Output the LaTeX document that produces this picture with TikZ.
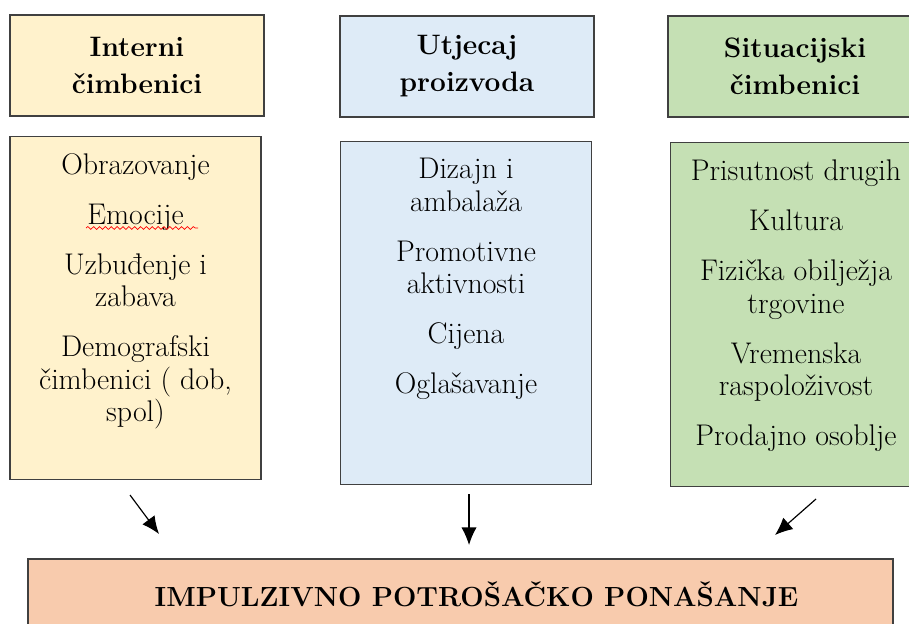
\documentclass[tikz,border=0pt]{standalone}
\usepackage{xcolor}
\usepackage{tikz}
\usetikzlibrary{
    arrows.meta,
    decorations.pathmorphing
}
\definecolor{zutaboja}{HTML}{FFF2CC}
\definecolor{plavaboja}{HTML}{DEEBF7}
\definecolor{zelenaboja}{HTML}{C5E0B4}
\definecolor{narancasta}{HTML}{F8CBAD}
\definecolor{rub}{HTML}{404040}

\begin{document}
\begin{tikzpicture}[x=0.03cm,y=-0.03cm,>={Latex[length=15pt,width=13pt]},line width=1pt]
    \tikzstyle{naslov}=[draw=rub, inner sep=0pt, outer sep=0pt, minimum width=7.62cm, minimum height=3.03cm, align=center, font=\fontsize{24}{31.6}\selectfont\bfseries]
    \tikzstyle{okvir}=[draw=rub, inner sep=0pt, outer sep=0pt, minimum width=7.53cm, minimum height=10.3cm]
    \tikzstyle{popis}=[anchor=north, inner sep=0pt, align=center, font=\fontsize{25.5}{27.7}\selectfont]

    \useasboundingbox (0,0) rectangle (909,623);

    \node[naslov, fill=zutaboja] (IN) at (137,65.5) {Interni\\ čimbenici};
    \node[naslov, fill=plavaboja] (UP) at (467,66.5) {Utjecaj\\ proizvoda};
    \node[naslov, fill=zelenaboja] (SC) at (795,66.5) {Situacijski\\ čimbenici};

    \node[okvir, fill=zutaboja] (INb) at (135.5,308) {};
    \node[okvir, fill=plavaboja] (UPb) at (466,313) {};
    \node[okvir, fill=zelenaboja] (SCb) at (796,314.5) {};

    \node[popis] (INt) at ([yshift=-0.5cm]INb.north) {Obrazovanje\\[15pt] Emocije\\[15pt] Uzbuđenje i\\ zabava\\[15pt] Demografski\\ čimbenici ( dob,\\ spol)};
    \node[popis] (UPt) at ([yshift=-0.5cm]UPb.north) {Dizajn i\\ ambalaža\\[15pt] Promotivne\\ aktivnosti\\[15pt] Cijena\\[15pt] Oglašavanje};
    \node[popis] (SCt) at ([yshift=-0.5cm]SCb.north) {Prisutnost drugih\\[15pt] Kultura\\[15pt] Fizička obilježja\\ trgovine\\[15pt] Vremenska\\ raspoloživost\\[15pt] Prodajno osoblje};

    \draw[red, line width=0.6pt, decorate, decoration={snake, amplitude=1.2pt, segment length=5pt}] (86,228) -- (198,228);

    \node[draw=rub, fill=narancasta, inner sep=0pt, outer sep=0pt, minimum width=25.95cm, minimum height=2.13cm, font=\fontsize{23.6}{31}\selectfont\bfseries] (IPP) at (460.5,594.5) {\hspace*{0.96cm}IMPULZIVNO POTROŠAČKO PONAŠANJE};

    \coordinate (l1) at (130,495);
    \coordinate (l2) at (159,534);
    \coordinate (m1) at (469,494);
    \coordinate (m2) at (469,545);
    \coordinate (d1) at (816,499);
    \coordinate (d2) at (775,535);
    \draw[->] (l1) -- (l2);
    \draw[->] (m1) -- (m2);
    \draw[->] (d1) -- (d2);
\end{tikzpicture}
\end{document}
